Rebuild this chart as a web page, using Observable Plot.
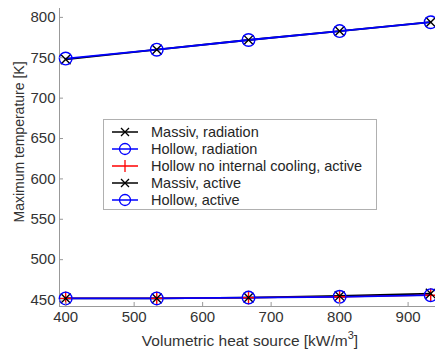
<!DOCTYPE html>
<html><head><meta charset="utf-8">
<script src="https://cdn.jsdelivr.net/npm/d3@7"></script>
<script src="https://cdn.jsdelivr.net/npm/@observablehq/plot@0.6"></script>
<style>
body{margin:0;background:#fff;font-family:"Liberation Sans",Arial,sans-serif;}
#wrap{position:relative;width:435px;height:353px;overflow:hidden;}
#legend{position:absolute;left:103px;top:119px;width:274px;height:91px;border:1px solid #b0b0b0;background:#fff;box-sizing:border-box;padding-top:3px;}
.item{height:17.1px;display:flex;align-items:center;font-size:14.5px;color:#262626;}
.item svg{margin-left:8px;margin-right:13px;}
</style></head>
<body><div id="wrap"><div id="legend"></div></div>
<script>
const heat = [400, 533, 667, 800, 933];
const massivRadiation = [748, 760, 772, 783, 794];
const hollowRadiation = [749, 760, 772, 783, 794];
const hollowNoCoolingActive = [452, 452, 453, 454, 456];
const massivActive = [452, 452, 453, 455, 458];
const hollowActive = [452, 452, 453, 454, 456];
const seriesNames = ["Massiv, radiation","Hollow, radiation","Hollow no internal cooling, active","Massiv, active","Hollow, active"];
const seriesColors = ["#000000","#0000ff","#ff0000","#000000","#0000ff"];
const seriesSymbols = ["times","circle","plus","times","circle"];
const xTicks = [400,500,600,700,800,900];
const yTicks = [450,500,550,600,650,700,750,800];

const allValues = [massivRadiation, hollowRadiation, hollowNoCoolingActive, massivActive, hollowActive];
const rows = [];
allValues.forEach((vals, si) => vals.forEach((v, i) => rows.push({s: si, x: heat[i], y: v})));

const marks = [];
marks.push(Plot.ruleX([391], {stroke: "#999", strokeWidth: 1}));
marks.push(Plot.ruleY([442], {stroke: "#999", strokeWidth: 1}));
[0,3,2,1,4].forEach(si => {
  const d = rows.filter(r => r.s === si);
  marks.push(Plot.line(d, {x: "x", y: "y", stroke: seriesColors[si], strokeWidth: si===2?1.2:1.8}));
});
[2,0,3,1,4].forEach(si => {
  const d = rows.filter(r => r.s === si);
  marks.push(Plot.dot(d, {x: "x", y: "y", stroke: seriesColors[si], symbol: () => seriesSymbols[si], r: si===1||si===4?6.3:4.5, strokeWidth: 1.4}));
});
marks.push(Plot.axisX(xTicks, {tickSize: -4, tickPadding: 9, stroke: "#999", fontSize: 15, fill: "#333", label: null}));
marks.push(Plot.axisY(yTicks, {tickSize: -4, tickPadding: 8, stroke: "#999", fontSize: 15, fill: "#333", label: null}));

const chart = Plot.plot({
  width: 435, height: 353,
  marginLeft: 59, marginRight: 0, marginTop: 8, marginBottom: 47,
  x: {domain: [391, 940]},
  y: {domain: [442, 811]},
  style: {fontFamily: "'Liberation Sans', Arial, sans-serif", background: "#fff"},
  marks
});
const wrap = document.getElementById("wrap");
wrap.insertBefore(chart, wrap.firstChild);
const svgNS = "http://www.w3.org/2000/svg";
const xl = document.createElementNS(svgNS, "text");
xl.setAttribute("x", 250); xl.setAttribute("y", 346);
xl.setAttribute("text-anchor", "middle"); xl.setAttribute("font-size", 15.5); xl.setAttribute("fill", "#333");
xl.innerHTML = 'Volumetric heat source [kW/m<tspan dy="-7" font-size="11">3</tspan><tspan dy="7">]</tspan>';
chart.appendChild(xl);
const yl = document.createElementNS(svgNS, "text");
yl.setAttribute("transform", "translate(24,142) rotate(-90)");
yl.setAttribute("text-anchor", "middle"); yl.setAttribute("font-size", 14); yl.setAttribute("fill", "#333");
yl.textContent = "Maximum temperature [K]";
chart.appendChild(yl);

const leg = document.getElementById("legend");
seriesNames.forEach((name, i) => {
  const it = document.createElement("div"); it.className = "item";
  const s = document.createElementNS(svgNS, "svg");
  s.setAttribute("width", 26); s.setAttribute("height", 14);
  const c = seriesColors[i];
  let m = `<line x1="0" y1="7" x2="26" y2="7" stroke="${c}" stroke-width="1.5"/>`;
  if (seriesSymbols[i] === "times") m += `<path d="M9,3L17,11M17,3L9,11" stroke="${c}" stroke-width="1.3"/>`;
  if (seriesSymbols[i] === "circle") m += `<circle cx="13" cy="7" r="5.5" fill="none" stroke="${c}" stroke-width="1.3"/>`;
  if (seriesSymbols[i] === "plus") m += `<path d="M13,1V13" stroke="${c}" stroke-width="1.3"/>`;
  s.innerHTML = m;
  it.appendChild(s);
  const t = document.createElement("span"); t.textContent = name; it.appendChild(t);
  leg.appendChild(it);
});
</script></body></html>
